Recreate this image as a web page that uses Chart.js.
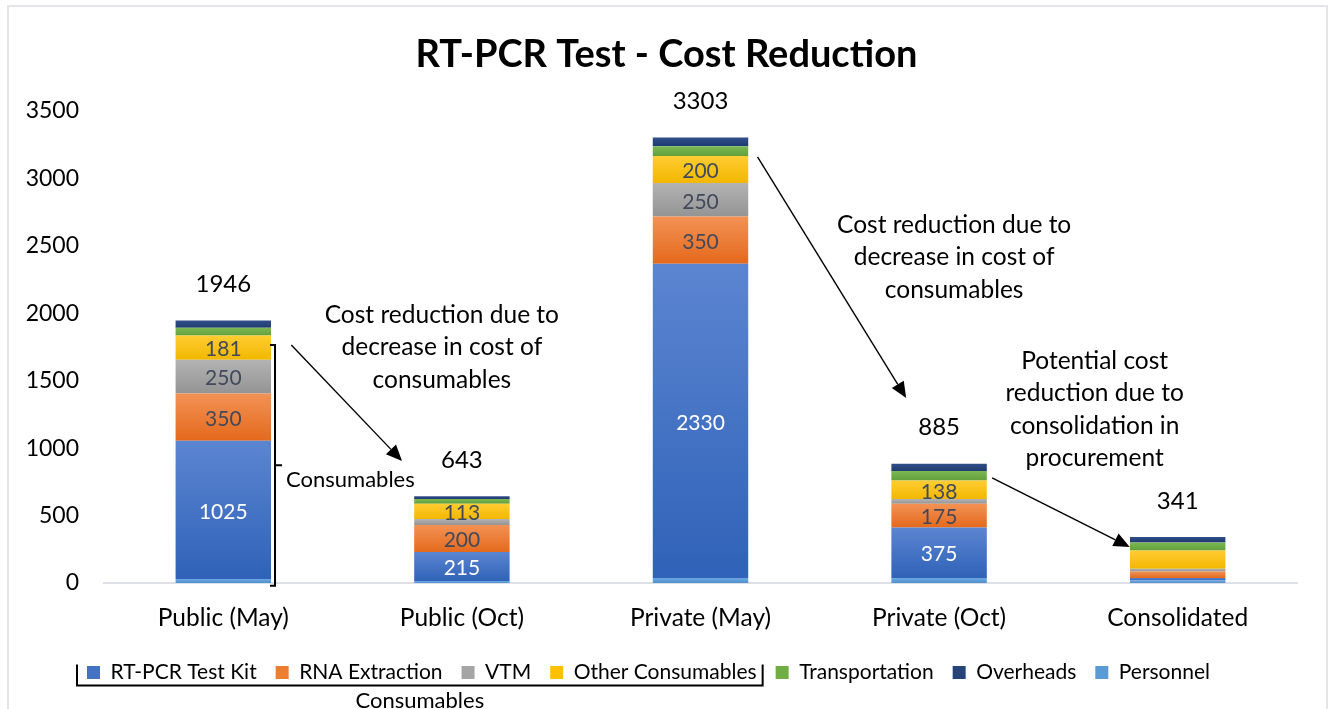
<!DOCTYPE html>
<html>
<head>
<meta charset="utf-8">
<script src="https://cdn.jsdelivr.net/npm/chart.js@4.4.0/dist/chart.umd.min.js"></script>
<style>
  html, body { margin: 0; padding: 0; background: #fff; }
  #wrap { position: relative; width: 1333px; height: 709px; overflow: hidden; }
  #frame { position: absolute; left: 7px; top: 5px; width: 1321px; height: 800px; border: 2px solid #E3E5E8; box-sizing: border-box; }
  canvas { position: absolute; left: 0; top: 0; }
</style>
</head>
<body>
<div id="wrap">
  <div id="frame"></div>
  <canvas id="myChart" width="1333" height="709"></canvas>
</div>
<script>
// values (stack order: bottom -> top)
const categories = ["Public (May)", "Public (Oct)", "Private (May)", "Private (Oct)", "Consolidated"];
const personnel        = [30, 15, 37, 37, 18];
const testKit          = [1025, 215, 2330, 375, 20];
const rnaExtraction    = [350, 200, 350, 175, 48];
const vtm              = [250, 45, 250, 35, 20];
const otherConsumables = [181, 113, 200, 138, 135];
const transportation   = [56, 35, 72, 70, 60];
const overheads        = [54, 20, 64, 55, 40];
const yTicks = [0, 500, 1000, 1500, 2000, 2500, 3000, 3500];
const showSegmentLabels = [true, true, true, true, false];
const chartTitle = "RT-PCR Test - Cost Reduction";

const FONT = "Lato, 'Open Sans', sans-serif";

// [light top, dark bottom, legend swatch]
const colors = {
  personnel: ["#6FA9DF", "#4E90D0", "#5B9BD5"],
  testKit:   ["#5C85D1", "#2F62B8", "#4472C4"],
  rna:       ["#F39255", "#E4691C", "#ED7D31"],
  vtm:       ["#B3B3B3", "#949494", "#A5A5A5"],
  other:     ["#FFCD33", "#F2B700", "#FFC000"],
  transport: ["#7CB855", "#61A03A", "#70AD47"],
  overheads: ["#304F88", "#1F3B70", "#264478"],
};

const series = [
  { label: "Personnel", data: personnel, c: colors.personnel },
  { label: "RT-PCR Test Kit", data: testKit, c: colors.testKit, text: "#ffffff" },
  { label: "RNA Extraction", data: rnaExtraction, c: colors.rna, text: "#404A5C" },
  { label: "VTM", data: vtm, c: colors.vtm, text: "#404A5C" },
  { label: "Other Consumables", data: otherConsumables, c: colors.other, text: "#404A5C" },
  { label: "Transportation", data: transportation, c: colors.transport },
  { label: "Overheads", data: overheads, c: colors.overheads },
];

function baseBelow(dsIndex, i) {
  let s = 0;
  for (let k = 0; k < dsIndex; k++) s += series[k].data[i];
  return s;
}

function gradientFill(dsIndex) {
  return (ctx) => {
    const c = series[dsIndex].c;
    const chart = ctx.chart;
    const y = chart.scales.y;
    if (ctx.type !== 'data' || !y || !chart.chartArea) return c[2];
    const b = baseBelow(dsIndex, ctx.dataIndex);
    const top = y.getPixelForValue(b + series[dsIndex].data[ctx.dataIndex]);
    const bot = y.getPixelForValue(b);
    if (!isFinite(top) || !isFinite(bot) || top === bot) return c[2];
    const g = chart.ctx.createLinearGradient(0, top, 0, bot);
    g.addColorStop(0, c[0]);
    g.addColorStop(1, c[1]);
    return g;
  };
}

const totals = categories.map((_, i) => series.reduce((s, d) => s + d.data[i], 0));

// annotation anchors: [category position, value]
const arrows = [
  [[0.285, 1765], [0.749, 905]],
  [[2.239, 3159], [2.862, 1372]],
  [[3.222, 779], [3.799, 267]],
];
const notes = [
  { at: [0.916, 1987], lines: ["Cost reduction due to", "decrease in cost of", "consumables"] },
  { at: [3.063, 2655], lines: ["Cost reduction due to", "decrease in cost of", "consumables"] },
  { at: [3.652, 1646], lines: ["Potential cost", "reduction due to", "consolidation in", "procurement"] },
];
const bracketRange = [1765, -20];

function drawArrow(ctx, x1, y1, x2, y2) {
  const len = Math.hypot(x2 - x1, y2 - y1);
  const ux = (x2 - x1) / len, uy = (y2 - y1) / len;
  const head = 16, half = 7;
  const bx = x2 - ux * head, by = y2 - uy * head;
  ctx.beginPath();
  ctx.moveTo(x1, y1);
  ctx.lineTo(bx, by);
  ctx.stroke();
  ctx.beginPath();
  ctx.moveTo(x2, y2);
  ctx.lineTo(bx - uy * half, by + ux * half);
  ctx.lineTo(bx + uy * half, by - ux * half);
  ctx.closePath();
  ctx.fill();
}

const extras = {
  id: 'extras',
  afterDraw(chart) {
    const ctx = chart.ctx;
    const x = chart.scales.x, y = chart.scales.y;
    ctx.save();

    // title, centred on the whole canvas
    ctx.font = "bold 38px " + FONT;
    ctx.fillStyle = '#000';
    ctx.textAlign = 'center';
    ctx.textBaseline = 'middle';
    ctx.fillText(chartTitle, chart.width / 2, 55);

    // segment labels
    ctx.font = "21px " + FONT;
    series.forEach((s, d) => {
      if (!s.text) return;
      const meta = chart.getDatasetMeta(d);
      meta.data.forEach((bar, i) => {
        if (!showSegmentLabels[i] || s.data[i] < 100) return;
        ctx.fillStyle = s.text;
        ctx.fillText(String(s.data[i]), bar.x, (bar.y + bar.base) / 2 + 2);
      });
    });

    // totals
    ctx.font = "24px " + FONT;
    ctx.fillStyle = '#000';
    totals.forEach((t, i) => {
      ctx.fillText(String(t), x.getPixelForValue(i), y.getPixelForValue(t) - 36);
    });

    // notes
    ctx.font = "24.5px " + FONT;
    notes.forEach(n => {
      const cx = x.getPixelForValue(n.at[0]);
      const cy = y.getPixelForValue(n.at[1]);
      n.lines.forEach((l, k) => ctx.fillText(l, cx, cy + k * 32.5));
    });

    // arrows
    ctx.strokeStyle = '#000';
    ctx.fillStyle = '#000';
    ctx.lineWidth = 1.4;
    arrows.forEach(a => {
      drawArrow(ctx,
        x.getPixelForValue(a[0][0]), y.getPixelForValue(a[0][1]),
        x.getPixelForValue(a[1][0]), y.getPixelForValue(a[1][1]));
    });

    // brace beside first bar
    const bar0 = chart.getDatasetMeta(1).data[0];
    const bx = bar0.x + bar0.width / 2 + 4;
    const t = y.getPixelForValue(bracketRange[0]);
    const b = y.getPixelForValue(bracketRange[1]);
    const m = (t + b) / 2;
    ctx.lineWidth = 2;
    ctx.beginPath();
    ctx.moveTo(bx - 5, t); ctx.lineTo(bx, t); ctx.lineTo(bx, b); ctx.lineTo(bx - 5, b);
    ctx.moveTo(bx, m); ctx.lineTo(bx + 7, m);
    ctx.stroke();
    ctx.font = "22px " + FONT;
    ctx.textAlign = 'left';
    ctx.fillText("Consumables", bx + 11, m + 15);

    // bracket under the consumables legend items
    const boxes = chart.legend.legendHitBoxes;
    if (boxes && boxes.length > 3) {
      const l = boxes[0].left - 10;
      const r = boxes[3].left + boxes[3].width + 6;
      const cy = boxes[0].top + boxes[0].height / 2;
      ctx.lineWidth = 2;
      ctx.beginPath();
      ctx.moveTo(l, cy - 8); ctx.lineTo(l, cy + 13); ctx.lineTo(r, cy + 13); ctx.lineTo(r, cy - 8);
      ctx.stroke();
      ctx.textAlign = 'center';
      ctx.fillText("Consumables", (l + r) / 2, cy + 28);
    }
    ctx.restore();
  }
};

const ctx = document.getElementById("myChart").getContext("2d");

const config = {
  type: "bar",
  data: {
    labels: categories,
    datasets: series.map((s, d) => ({
      label: s.label,
      data: s.data,
      backgroundColor: gradientFill(d),
      borderWidth: 0,
      categoryPercentage: 1,
      barPercentage: 0.4,
    })),
  },
  options: {
    responsive: false,
    animation: false,
    devicePixelRatio: 1,
    layout: { padding: { left: 0, right: 36, top: 111, bottom: 16 } },
    plugins: {
      tooltip: { enabled: false },
      title: { display: false },
      legend: {
        position: 'bottom',
        labels: {
          color: '#000',
          font: { family: FONT, size: 21 },
          boxWidth: 13,
          boxHeight: 13,
          padding: 19,
          sort: (a, b) => (a.datasetIndex === 0 ? 99 : a.datasetIndex) - (b.datasetIndex === 0 ? 99 : b.datasetIndex),
          generateLabels: (chart) => {
            const items = Chart.defaults.plugins.legend.labels.generateLabels(chart);
            items.forEach(it => { it.fillStyle = series[it.datasetIndex].c[2]; it.lineWidth = 0; it.strokeStyle = 'transparent'; });
            return items;
          },
        },
      },
    },
    scales: {
      x: {
        stacked: true,
        grid: { display: false, drawTicks: false },
        border: { display: true, color: '#DDE0E4', width: 2 },
        ticks: { color: '#000', font: { family: FONT, size: 24.5 }, padding: 20 },
        afterFit: (s) => { s.height = 60; },
      },
      y: {
        stacked: true,
        min: 0,
        max: 3500,
        grid: { display: false, drawTicks: false },
        border: { display: false },
        afterBuildTicks: (s) => { s.ticks = yTicks.map(v => ({ value: v })); },
        ticks: { color: '#000', font: { family: FONT, size: 23 }, padding: 25, callback: (v) => String(v) },
        afterFit: (s) => { s.width = 104; },
      },
    },
  },
  plugins: [extras],
};

const myChart = new Chart(ctx, config);
</script>
</body>
</html>
